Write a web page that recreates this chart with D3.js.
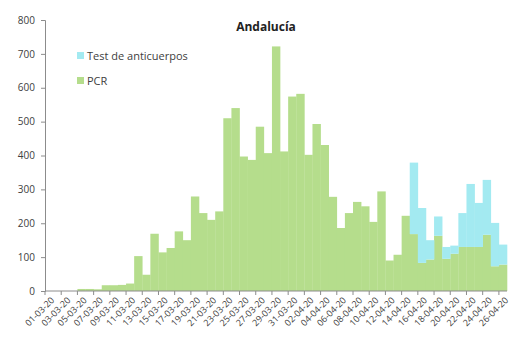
<!DOCTYPE html>
<html>
<head>
<meta charset="utf-8">
<script src="https://cdn.jsdelivr.net/npm/d3@7"></script>
<style>
  body { margin: 0; background: #fff; }
  text { font-family: "Open Sans", "Liberation Sans", sans-serif; }
</style>
</head>
<body>
<svg id="chart" width="510" height="349"></svg>
<script>
// daily values, 01-03-20 .. 26-04-20
var days = [];
for (var d = 1; d <= 31; d++) days.push(String(d).padStart(2, "0") + "-03-20");
for (var d = 1; d <= 26; d++) days.push(String(d).padStart(2, "0") + "-04-20");

var pcr = [0, 0, 0, 0, 6, 6, 5, 17, 17, 18, 22, 103, 48, 169, 114, 127, 176, 150, 279, 230,
  210, 235, 510, 540, 397, 387, 485, 407, 722, 412, 574, 582, 402, 493, 431, 278, 186, 230,
  263, 250, 204, 294, 90, 107, 222, 168, 83, 93, 163, 95, 110, 130, 130, 130, 166, 73, 78];
var anticuerpos = [0, 0, 0, 0, 0, 0, 0, 0, 0, 0, 0, 0, 0, 0, 0, 0, 0, 0, 0, 0,
  0, 0, 0, 0, 0, 0, 0, 0, 0, 0, 0, 0, 0, 0, 0, 0, 0, 0,
  0, 0, 0, 0, 0, 0, 0, 211, 162, 57, 57, 35, 24, 100, 186, 130, 162, 128, 59];
var yTicks = [0, 100, 200, 300, 400, 500, 600, 700, 800];

var COLOR = { pcr: "#b5dd8c", anti: "#a3eaf1", axis: "#8c8c8c", text: "#404040" };

var margin = { left: 45, top: 20, right: 3, bottom: 58 };
var svg = d3.select("#chart");
var width = 510 - margin.left - margin.right;
var height = 349 - margin.top - margin.bottom;
var g = svg.append("g").attr("transform", "translate(" + margin.left + "," + margin.top + ")");

var x = d3.scaleBand().domain(days).range([0, width]).padding(0);
var y = d3.scaleLinear().domain([0, 800]).range([height, 0]);

var rows = days.map(function (day, i) {
  return { day: day, pcr: pcr[i], anti: anticuerpos[i] };
});
var stack = d3.stack().keys(["pcr", "anti"])(rows);

g.selectAll(".serie")
  .data(stack)
  .enter()
  .append("g")
  .attr("fill", function (s) { return s.key == "pcr" ? COLOR.pcr : COLOR.anti; })
  .selectAll("rect")
  .data(function (s) { return s; })
  .enter()
  .append("rect")
  .attr("x", function (d) { return x(d.data.day); })
  .attr("y", function (d) { return y(d[1]); })
  .attr("width", x.bandwidth() + 0.3)
  .attr("height", function (d) { return y(d[0]) - y(d[1]); });

// y axis
var yAxis = g.append("g")
  .call(d3.axisLeft(y).tickValues(yTicks).tickSize(4).tickPadding(6));
yAxis.select(".domain").attr("stroke", COLOR.axis);
yAxis.selectAll(".tick line").attr("stroke", COLOR.axis);
yAxis.selectAll("text").attr("fill", COLOR.text).style("font-size", "10px");

// x axis: label every other day, ticks between pairs
var xAxis = g.append("g").attr("transform", "translate(0," + height + ")");
xAxis.append("line")
  .attr("x1", 0).attr("x2", width)
  .attr("stroke", COLOR.axis);
xAxis.selectAll(".tk")
  .data(days.filter(function (d, i) { return i % 2 == 0; }))
  .enter()
  .append("line")
  .attr("x1", function (d) { return x(d); })
  .attr("x2", function (d) { return x(d); })
  .attr("y1", 0).attr("y2", 4)
  .attr("stroke", COLOR.axis);
xAxis.selectAll(".lbl")
  .data(days.filter(function (d, i) { return i % 2 == 0; }))
  .enter()
  .append("text")
  .attr("transform", function (d) {
    return "translate(" + (x(d) + x.bandwidth() / 2 + 2) + ",6) rotate(-45)";
  })
  .attr("text-anchor", "end")
  .attr("dy", "0.6em")
  .attr("fill", COLOR.text)
  .style("font-size", "9px")
  .text(function (d) { return d; });

// title
svg.append("text")
  .attr("x", 266).attr("y", 31)
  .attr("text-anchor", "middle")
  .attr("fill", "#222")
  .style("font-size", "12px")
  .style("font-weight", "bold")
  .text("Andalucía");

// legend
var legend = svg.append("g").attr("transform", "translate(77,52)");
var items = [{ name: "Test de anticuerpos", c: COLOR.anti }, { name: "PCR", c: COLOR.pcr }];
legend.selectAll("rect")
  .data(items)
  .enter()
  .append("rect")
  .attr("x", 0)
  .attr("y", function (d, i) { return i * 25; })
  .attr("width", 7).attr("height", 7)
  .attr("fill", function (d) { return d.c; });
legend.selectAll("text")
  .data(items)
  .enter()
  .append("text")
  .attr("x", 10)
  .attr("y", function (d, i) { return i * 25 + 7.5; })
  .attr("fill", COLOR.text)
  .style("font-size", "11px")
  .text(function (d) { return d.name; });
</script>
</body>
</html>
